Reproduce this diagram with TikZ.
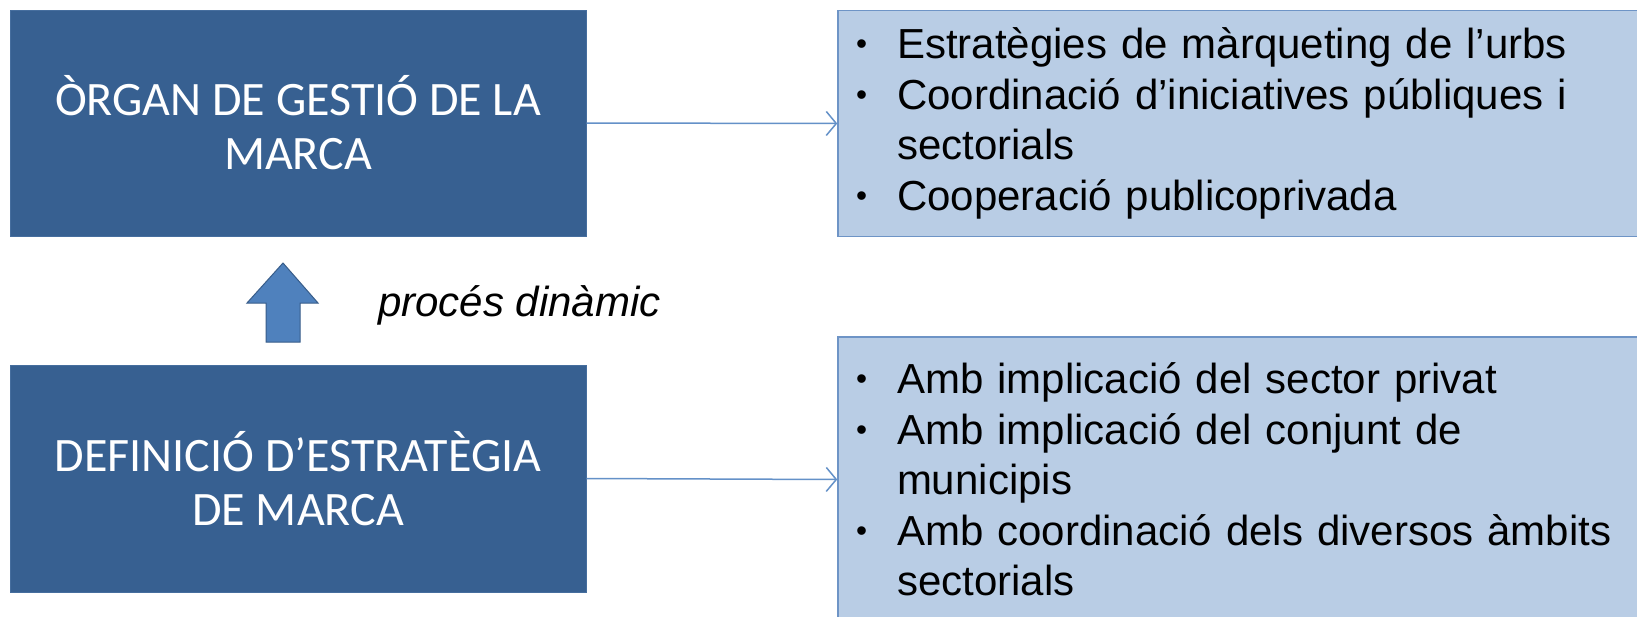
\documentclass[tikz,border=0pt]{standalone}
\usepackage{fontspec}
\setmainfont{Liberation Sans}
\newfontfamily\calib{Carlito}
\usetikzlibrary{arrows.meta}
\definecolor{darkbox}{RGB}{55,96,145}
\definecolor{darkedge}{RGB}{70,110,158}
\definecolor{lightbox}{RGB}{185,205,229}
\definecolor{lightedge}{RGB}{110,148,198}
\definecolor{linecol}{RGB}{100,145,200}
\definecolor{arrowfill}{RGB}{79,129,189}
\definecolor{arrowedge}{RGB}{56,93,138}
\newcommand\bul{\makebox[35pt][l]{\hspace{-6pt}\raisebox{4pt}{\scalebox{0.75}{•}}}}
\newcommand\ind{\hspace*{35pt}}
\begin{document}
\begin{tikzpicture}[x=1pt,y=-1pt,
  leftbox/.style={fill=darkbox, draw=darkedge, line width=1pt, text=white,
    font=\calib\fontsize{48}{54}\selectfont, align=center, inner sep=0pt,
    minimum width=576pt},
  rightbox/.style={fill=lightbox, draw=lightedge, line width=1.5pt, text=black,
    font=\fontsize{42}{50.5}\selectfont, align=left, text width=759pt,
    inner xsep=24pt, inner ysep=0pt, minimum width=807pt},
  conn/.style={draw=linecol, line width=1.5pt,
    -{Straight Barb[length=10pt,width=24pt,line width=1.5pt]}},
  blockarrow/.style={fill=arrowfill, draw=arrowedge, line width=1pt, line join=miter}]
\useasboundingbox (0,0) rectangle (1637,616);
\fill[white] (0,0) rectangle (1637,616);

\node[leftbox, minimum height=226pt] (organ) at (298,123) {ÒRGAN DE GESTIÓ DE LA\\MARCA};
\node[leftbox, minimum height=227pt] (defin) at (298,478.5) {DEFINICIÓ D’ESTRATÈGIA\\DE MARCA};

\node[rightbox, minimum height=226pt] (r1) at (1241.5,123.5) {\bul Estratègies de màrqueting de l’urbs\\
\bul Coordinació d’iniciatives públiques i\\
\ind sectorials\\
\bul Cooperació publicoprivada};

\node[rightbox, minimum height=285pt] (r2) at (1241.5,479.5) {\bul Amb implicació del sector privat\\
\bul Amb implicació del conjunt de\\
\ind municipis\\
\bul Amb coordinació dels diversos àmbits\\
\ind sectorials};

\draw[conn] (organ.east) -- (r1.west);
\draw[conn] (defin.east) -- (r2.west);

\draw[blockarrow] (266,342) -- (266,303) -- (247,303) -- (283,263) -- (318,303) -- (300,303) -- (300,342) -- cycle;

\node[font=\itshape\fontsize{42}{50}\selectfont, anchor=west, inner sep=0pt] (proc) at (378,305) {procés dinàmic};
\end{tikzpicture}
\end{document}
